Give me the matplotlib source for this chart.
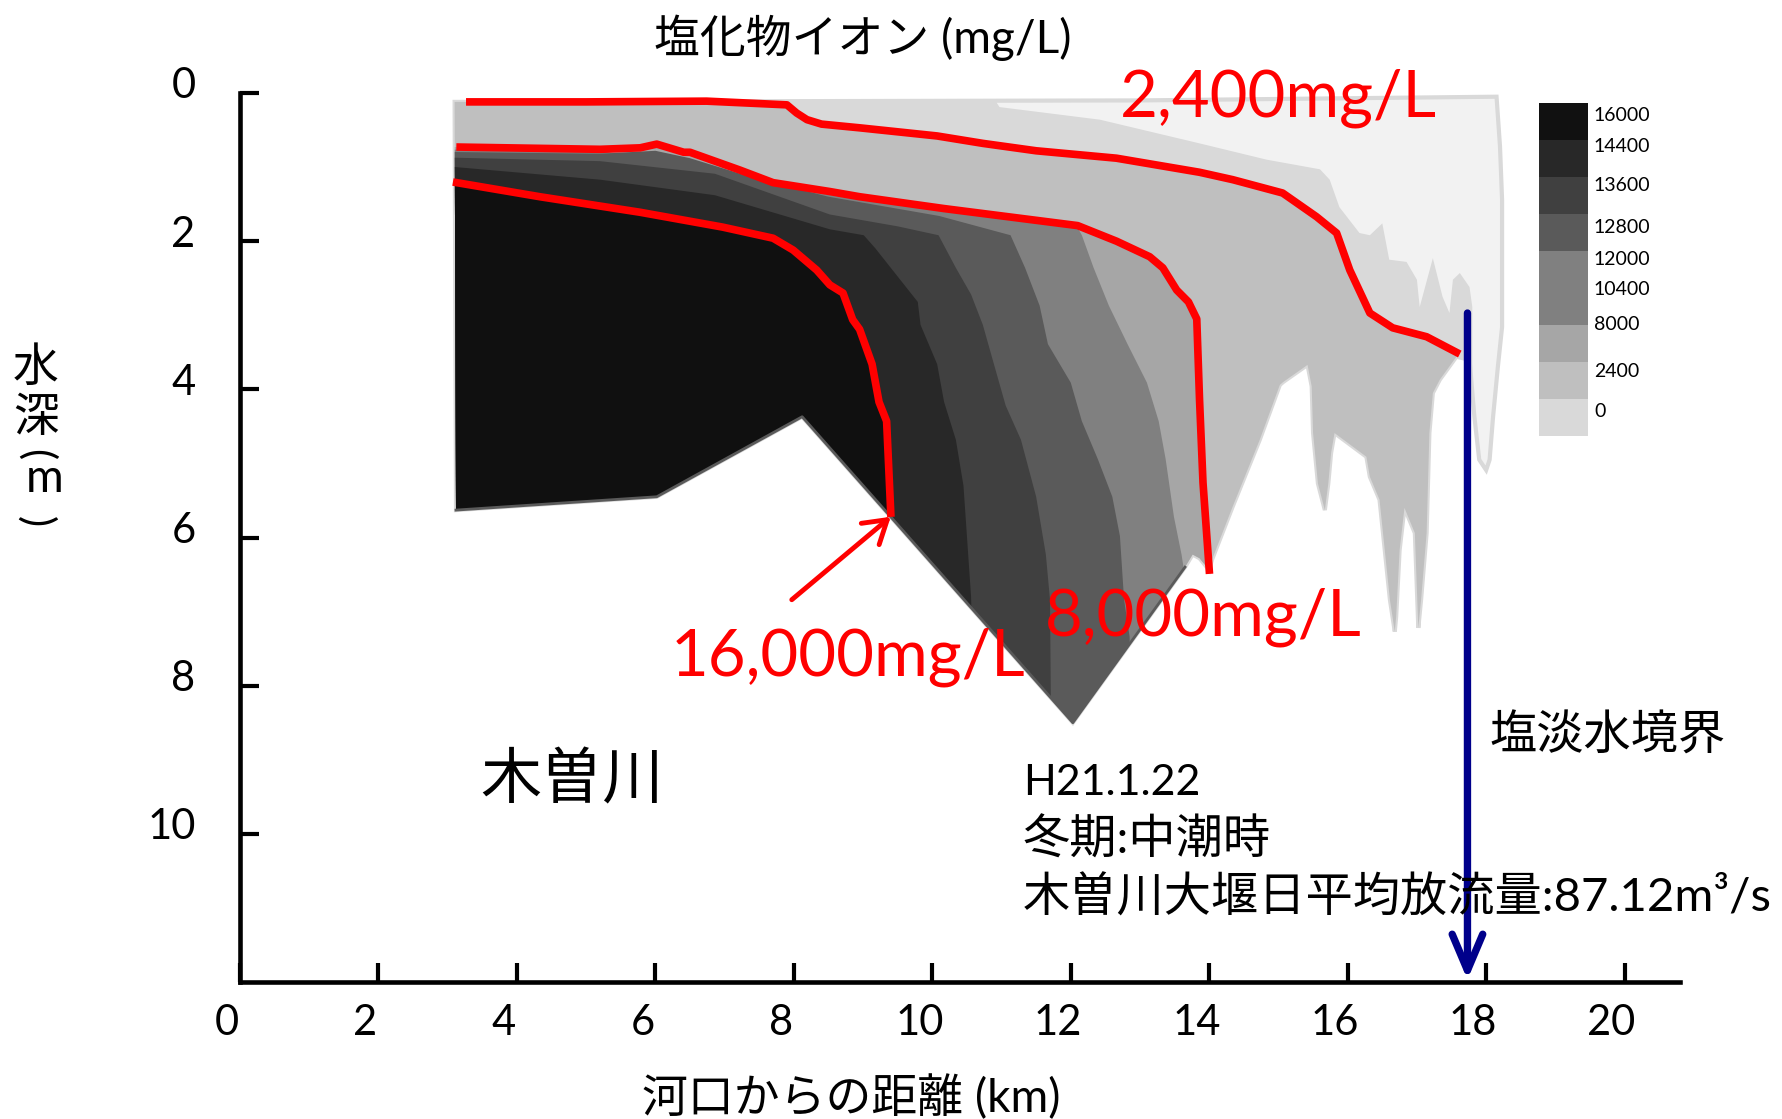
import numpy as np
import matplotlib
matplotlib.use("Agg")
import matplotlib.pyplot as plt
from matplotlib.patches import Polygon
from matplotlib.transforms import ScaledTranslation

plt.rcParams['font.family'] = ['Lato', 'Noto Sans CJK JP', 'DejaVu Sans']

# ---------------- data (distance from river mouth km, depth m) ----------------
# outline of the observed cross-section (envelope)
env_x = [3.10, 8.0, 13.0, 18.15, 18.20, 18.23, 18.23, 18.17, 18.10, 18.05, 18.00, 17.90,
         17.83, 17.76, 17.57, 17.47, 17.33, 17.23, 17.18, 17.14, 17.06, 17.02, 16.97, 16.82,
         16.75, 16.70, 16.68, 16.61, 16.51, 16.46, 16.32, 16.27, 15.81, 15.76, 15.72, 15.67,
         15.57, 15.50, 15.48, 15.42, 15.07, 15.02, 14.73, 14.34, 14.04, 14.00, 13.86, 13.76,
         13.65, 12.03, 8.12, 6.02, 3.12]
env_d = [0.12, 0.11, 0.10, 0.05, 0.72, 1.44, 3.16, 3.69, 4.37, 4.95, 5.09, 4.95,
         4.37, 3.60, 3.56, 3.69, 3.87, 4.05, 4.59, 5.94, 6.84, 7.22, 5.94, 5.60,
         6.17, 7.07, 7.27, 6.84, 5.94, 5.49, 5.18, 4.91, 4.59, 4.86, 5.27, 5.63,
         5.27, 4.59, 3.96, 3.67, 3.90, 3.94, 4.68, 5.58, 6.30, 6.44, 6.28, 6.23,
         6.40, 8.50, 4.37, 5.45, 5.63]

# boundary of the "0" class (below the very fresh surface water)
d9_x = [2.5, 10.5, 10.97, 12.42, 13.86, 14.83, 15.60, 15.74, 15.88, 16.17, 16.32, 16.50, 16.60,
        16.85, 17.00, 17.04, 17.23, 17.37, 17.47, 17.52, 17.62, 17.76, 17.80, 17.80]
d9_d = [-0.5, -0.5, 0.19, 0.36, 0.68, 0.90, 1.03, 1.17, 1.54, 1.89, 1.92, 1.76, 2.25,
        2.28, 2.52, 2.89, 2.23, 2.75, 2.97, 2.52, 2.43, 2.62, 2.89, 9.0]

# red iso-lines
r2400_x = [3.32, 5.0, 6.74, 7.90, 8.04, 8.19, 8.40, 8.95, 10.07, 10.73, 11.5, 12.66, 13.86,
           14.34, 15.06, 15.55, 15.84, 16.03, 16.32, 16.65, 17.14, 17.57]
r2400_d = [0.12, 0.12, 0.11, 0.16, 0.27, 0.36, 0.42, 0.47, 0.58, 0.68, 0.78, 0.88, 1.07,
           1.17, 1.35, 1.67, 1.89, 2.39, 2.97, 3.17, 3.29, 3.50]
r8000_x = [3.18, 5.20, 5.78, 6.02, 6.41, 6.50, 7.22, 7.70, 8.52, 8.95, 10.17, 12.10, 12.66,
           13.14, 13.33, 13.53, 13.70, 13.82, 13.86, 13.91, 14.00]
r8000_d = [0.73, 0.76, 0.74, 0.69, 0.80, 0.80, 1.04, 1.21, 1.33, 1.40, 1.56, 1.79, 2.00,
           2.21, 2.36, 2.66, 2.82, 3.05, 4.14, 5.26, 6.44]
r16000_x = [3.13, 4.33, 5.78, 6.97, 7.70, 7.99, 8.33, 8.52, 8.71, 8.85, 8.95, 9.13, 9.23, 9.34, 9.40]
r16000_d = [1.21, 1.40, 1.61, 1.81, 1.96, 2.12, 2.39, 2.59, 2.70, 3.06, 3.19, 3.66, 4.17, 4.43, 5.67]

# intermediate class boundaries
b808_x = [2.5, 5.2, 8.52, 10.17, 12.10, 12.16, 12.33, 12.55, 12.82, 13.10, 13.27, 13.37, 13.49,
          13.60, 13.65, 13.66]
b808_d = [0.76, 0.78, 1.35, 1.58, 1.82, 1.92, 2.36, 2.87, 3.39, 3.91, 4.43, 4.94, 5.72,
          6.23, 6.53, 9.0]
b5a_x = [2.5, 5.20, 6.0, 6.5, 7.4, 8.5, 10.1, 11.13, 11.34, 11.55, 11.67, 12.00, 12.16, 12.39,
         12.60, 12.71, 12.77, 12.85, 12.88]
b5a_d = [0.79, 0.82, 0.78, 0.88, 1.14, 1.40, 1.66, 1.92, 2.36, 2.87, 3.39, 3.91, 4.43, 4.94,
         5.45, 5.98, 6.84, 7.34, 9.0]
b404_x = [2.5, 5.20, 6.86, 8.52, 9.50, 10.09, 10.34, 10.56, 10.73, 10.89, 11.06, 11.28, 11.50,
          11.64, 11.70, 11.72]
b404_d = [0.86, 0.92, 1.09, 1.64, 1.80, 1.92, 2.36, 2.72, 3.13, 3.66, 4.22, 4.68, 5.45,
          6.23, 6.84, 9.0]
b282_x = [2.5, 5.20, 6.86, 8.52, 9.01, 9.18, 9.40, 9.79, 9.83, 10.07, 10.17, 10.34, 10.45,
          10.50, 10.56, 10.62]
b282_d = [0.95, 1.17, 1.38, 1.84, 1.92, 2.10, 2.36, 2.82, 3.13, 3.66, 4.17, 4.68, 5.30,
          5.98, 6.80, 9.0]

# legend classes
leg_labels = ['16000', '14400', '13600', '12800', '12000', '10400', '8000', '2400', '0']
leg_colors = ['#111111', '#282828', '#404040', '#5a5a5a', '#808080', '#808080', '#a6a6a6',
              '#bfbfbf', '#d9d9d9']
leg_label_pos = [0.36, 1.19, 2.24, 3.38, 4.24, 5.04, 6.0, 7.26, 8.34]

x_ticks = list(range(0, 21, 2))
y_ticks = list(range(0, 11, 2))

boundary_x = 17.73       # salt / fresh water boundary (km)
boundary_top = 2.97
arrow16_start = (7.97, 6.84)

# ---------------- figure ----------------
W, H = 1782, 1119
fig = plt.figure(figsize=(W / 100, H / 100), dpi=100)
ax = fig.add_axes([240 / W, 1 - 982 / H, 1440 / W, 889 / H])
ax.set_xlim(0, 20.8)
ax.set_ylim(12, 0)

env = Polygon(np.column_stack([env_x, env_d]), closed=True, facecolor='#f2f2f2',
              edgecolor='#d9d9d9', lw=3, zorder=1)
ax.add_patch(env)


def layer(bx, bd, color, z):
    verts = list(zip(bx, bd)) + [(bx[-1], 9.5), (2.5, 9.5), (2.5, bd[0])]
    p = Polygon(verts, closed=True, facecolor=color, edgecolor='none', zorder=z)
    ax.add_patch(p)
    p.set_clip_path(env)


layer(d9_x, d9_d, '#d9d9d9', 2)
layer([2.5] + r2400_x, [0.0] + r2400_d, '#bfbfbf', 3)
layer([2.5] + r8000_x, [r8000_d[0]] + r8000_d, '#a6a6a6', 4)
layer(b808_x, b808_d, '#808080', 5)
layer(b5a_x, b5a_d, '#5a5a5a', 6)
layer(b404_x, b404_d, '#404040', 7)
layer(b282_x, b282_d, '#282828', 8)
layer([2.5] + r16000_x, [r16000_d[0]] + r16000_d, '#101010', 9)

# dark rim along the river bed
bed_x = env_x[-5:]
bed_d = env_d[-5:]
ax.plot(bed_x, bed_d, color='#5a5a5a', lw=2, zorder=10)

for xs, ds in [(r2400_x, r2400_d), (r8000_x, r8000_d), (r16000_x, r16000_d)]:
    ax.plot(xs, ds, color='red', lw=5.5, zorder=11, solid_joinstyle='round')

ax.annotate('', xy=(r16000_x[-1], r16000_d[-1] + 0.05), xytext=arrow16_start,
            arrowprops=dict(arrowstyle='->,head_length=0.8,head_width=0.5', color='red',
                            lw=3.5, mutation_scale=20, shrinkA=0, shrinkB=0), zorder=12)
ax.annotate('', xy=(boundary_x, 11.97), xytext=(boundary_x, boundary_top),
            arrowprops=dict(arrowstyle='->,head_length=1.3,head_width=0.55', color='#00008b',
                            lw=5.3, mutation_scale=20, shrinkA=0, shrinkB=0), zorder=12)

# axes styling
for s in ['top', 'right']:
    ax.spines[s].set_visible(False)
for s in ['left', 'bottom']:
    ax.spines[s].set_linewidth(3.3)
ax.set_xticks(x_ticks)
ax.set_yticks(y_ticks)
ax.tick_params(axis='both', direction='in', length=14, width=3, labelsize=30)
ax.tick_params(axis='x', pad=16)
ax.tick_params(axis='y', pad=32)
for lab in ax.get_xticklabels():
    lab.set_transform(lab.get_transform() + ScaledTranslation(-0.13, 0, fig.dpi_scale_trans))
for lab in ax.get_yticklabels():
    lab.set_transform(lab.get_transform() + ScaledTranslation(0, 0.10, fig.dpi_scale_trans))


def ftext(px, py, s, **kw):
    return fig.text(px / W, 1 - py / H, s, **kw)


ftext(863, 38, '塩化物イオン (mg/L)', ha='center', va='center', fontsize=33)
ftext(851, 1097, '河口からの距離 (km)', ha='center', va='center', fontsize=33)

# vertical y-axis title: stacked upright characters
ylab_parts = [('水', 36, 368, 0, 33), ('深', 36, 418, 0, 33), ('(', 36, 455, -90, 30),
              ('m', 45, 479, 0, 33), (')', 36, 522, -90, 30)]
for s, px, py, rot, fs in ylab_parts:
    ftext(px, py, s, ha='center', va='center', fontsize=fs, rotation=rot)

ftext(572, 781, '木曽川', ha='center', va='center', fontsize=44)
ftext(1023, 783, 'H21.1.22', ha='left', va='center', fontsize=31)
ftext(1023, 840, '冬期:中潮時', ha='left', va='center', fontsize=34)
ftext(1023, 897, '木曽川大堰日平均放流量:87.12m³/s', ha='left', va='center', fontsize=34)
ftext(1608, 736, '塩淡水境界', ha='center', va='center', fontsize=34)

ftext(1278, 98, '2,400mg/L', ha='center', va='center', fontsize=47, color='red')
ftext(1203, 617, '8,000mg/L', ha='center', va='center', fontsize=47, color='red')
ftext(848, 657, '16,000mg/L', ha='center', va='center', fontsize=47, color='red')

# legend (class colour boxes)
lax = fig.add_axes([1539 / W, 1 - 436 / H, 49 / W, 333.4 / H])
lax.set_xlim(0, 1)
lax.set_ylim(len(leg_labels), 0)
lax.barh(range(len(leg_labels)), [1] * len(leg_labels), height=1, align='edge', color=leg_colors)
for lab, pos in zip(leg_labels, leg_label_pos):
    lax.text(1.12, pos, lab, ha='left', va='center', fontsize=14, clip_on=False)
lax.axis('off')

fig.savefig('out.png', dpi=100)
